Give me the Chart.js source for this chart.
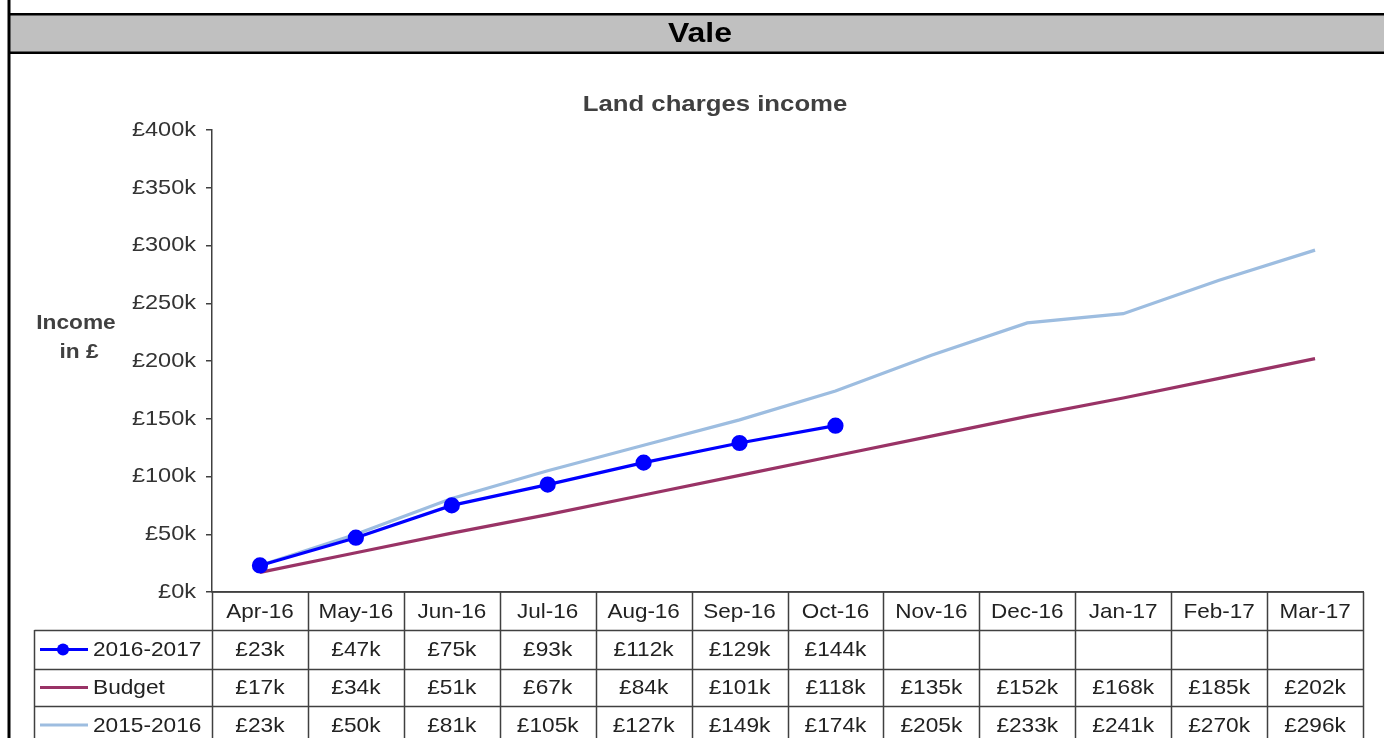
<!DOCTYPE html>
<html><head><meta charset="utf-8">
<script src="https://cdn.jsdelivr.net/npm/chart.js@4.4.1/dist/chart.umd.min.js"></script>
<style>html,body{margin:0;padding:0;background:#fff;overflow:hidden}canvas{display:block}</style>
</head><body><canvas id="c" width="1384" height="738"></canvas>
<script>
const categories = ['Apr-16','May-16','Jun-16','Jul-16','Aug-16','Sep-16','Oct-16','Nov-16','Dec-16','Jan-17','Feb-17','Mar-17'];
const seriesNames = ['2016-2017','Budget','2015-2016'];
const income2016 = [23,47,75,93,112,129,144,null,null,null,null,null];
const budget = [17,34,51,67,84,101,118,135,152,168,185,202];
const income2015 = [23,50,81,105,127,149,174,205,233,241,270,296];
const yTicks = [0,50,100,150,200,250,300,350,400];
const pageTitle = 'Vale';
const chartTitle = 'Land charges income';
const yLabel = ['Income','in £'];

const FONT = '"Liberation Sans", Arial, sans-serif';
const fmt = v => (v === null || v === undefined) ? '' : '£' + v + 'k';
const yFmt = v => '£' + v + 'k';

function txt(ctx, s, x, y, align, sx) {
  ctx.save();
  ctx.translate(x, y);
  ctx.scale(sx, 1);
  ctx.textAlign = align;
  ctx.textBaseline = 'middle';
  ctx.fillText(s, 0, 0);
  ctx.restore();
}

const frame = {
  id: 'frame',
  beforeDraw(chart) {
    const ctx = chart.ctx;
    ctx.save();
    ctx.fillStyle = '#fff';
    ctx.fillRect(0, 0, chart.width, chart.height);
    ctx.fillStyle = '#c0c0c0';
    ctx.fillRect(9, 14, chart.width, 38);
    ctx.fillStyle = '#000';
    ctx.fillRect(9, 13, chart.width, 2.5);
    ctx.fillRect(9, 51.5, chart.width, 2.5);
    ctx.fillRect(7.5, 0, 3, chart.height);
    ctx.font = 'bold 28px ' + FONT;
    txt(ctx, pageTitle, 700, 34, 'center', 1.14);
    ctx.fillStyle = '#404040';
    ctx.font = 'bold 22px ' + FONT;
    txt(ctx, chartTitle, 715, 105, 'center', 1.17);
    ctx.font = 'bold 21px ' + FONT;
    txt(ctx, yLabel[0], 76, 323, 'center', 1.08);
    txt(ctx, yLabel[1], 79, 352, 'center', 1.08);
    ctx.restore();
  },
  afterDraw(chart) {
    const ctx = chart.ctx;
    const x = chart.scales.x;
    const y = chart.scales.y;
    const area = chart.chartArea;
    const step = x.getPixelForValue(1) - x.getPixelForValue(0);
    const left = x.getPixelForValue(0) - step / 2;
    const right = x.getPixelForValue(categories.length - 1) + step / 2;
    const rows = [area.bottom, area.bottom + 38, area.bottom + 77, area.bottom + 114, area.bottom + 152];
    const legLeft = 34.5;
    ctx.save();
    ctx.fillStyle = '#333';
    ctx.font = '21px ' + FONT;
    yTicks.forEach(v => txt(ctx, yFmt(v), 196, y.getPixelForValue(v), 'right', 1.12));

    ctx.strokeStyle = '#404040';
    ctx.lineWidth = 1.5;
    ctx.beginPath();
    for (let i = 0; i <= categories.length; i++) {
      const px = Math.round(left + i * step) + 0.5;
      ctx.moveTo(px, rows[0]);
      ctx.lineTo(px, chart.height);
    }
    ctx.moveTo(left, rows[0]); ctx.lineTo(right, rows[0]);
    for (let r = 1; r < rows.length; r++) {
      ctx.moveTo(legLeft, Math.round(rows[r]) + 0.5);
      ctx.lineTo(right, Math.round(rows[r]) + 0.5);
    }
    ctx.moveTo(legLeft, rows[1]); ctx.lineTo(legLeft, chart.height);
    ctx.stroke();

    ctx.fillStyle = '#222';
    ctx.font = '21px ' + FONT;
    categories.forEach((c, i) => txt(ctx, c, x.getPixelForValue(i), (rows[0] + rows[1]) / 2 + 1, 'center', 1.07));
    chart.data.datasets.forEach((ds, d) => {
      const cy = (rows[d + 1] + rows[d + 2]) / 2 + 1;
      ds.data.forEach((v, i) => txt(ctx, fmt(v), x.getPixelForValue(i), cy, 'center', 1.08));
      ctx.save();
      ctx.strokeStyle = ds.borderColor;
      ctx.lineWidth = 3;
      ctx.beginPath();
      ctx.moveTo(40, cy - 1); ctx.lineTo(88, cy - 1);
      ctx.stroke();
      if (ds.pointRadius > 0) {
        ctx.fillStyle = ds.pointBackgroundColor;
        ctx.beginPath();
        ctx.arc(63, cy - 1, 6, 0, Math.PI * 2);
        ctx.fill();
      }
      ctx.restore();
      txt(ctx, ds.label, 93, cy, 'left', 1.08);
    });
    ctx.restore();
  }
};

new Chart(document.getElementById('c'), {
  type: 'line',
  data: {
    labels: categories,
    datasets: [
      { label: seriesNames[0], data: income2016, borderColor: '#0000ff', backgroundColor: '#0000ff',
        pointBackgroundColor: '#0000ff', pointBorderColor: '#0000ff', pointRadius: 6.5, borderWidth: 3.2, order: 0 },
      { label: seriesNames[1], data: budget, borderColor: '#993366', backgroundColor: '#993366',
        pointRadius: 0, borderWidth: 3.2, order: 1 },
      { label: seriesNames[2], data: income2015, borderColor: '#9dbde0', backgroundColor: '#9dbde0',
        pointRadius: 0, borderWidth: 3.2, order: 2 }
    ]
  },
  options: {
    responsive: false,
    animation: false,
    spanGaps: false,
    layout: { padding: { top: 130, right: 21, bottom: 0, left: 0 } },
    plugins: { legend: { display: false }, title: { display: false }, tooltip: { enabled: false } },
    scales: {
      x: {
        type: 'category', offset: true,
        ticks: { display: false },
        grid: { display: false },
        border: { color: '#404040', width: 1.5 },
        afterFit: s => { s.height = 146; }
      },
      y: {
        min: 0, max: 400,
        afterBuildTicks: s => { s.ticks = yTicks.map(v => ({ value: v })); },
        ticks: { display: false },
        grid: { drawOnChartArea: false, drawTicks: true, tickLength: 6, color: '#404040', lineWidth: 1.5 },
        border: { color: '#404040', width: 1.5 },
        afterFit: s => { s.width = 212; }
      }
    }
  },
  plugins: [frame]
});
</script>
</body></html>
